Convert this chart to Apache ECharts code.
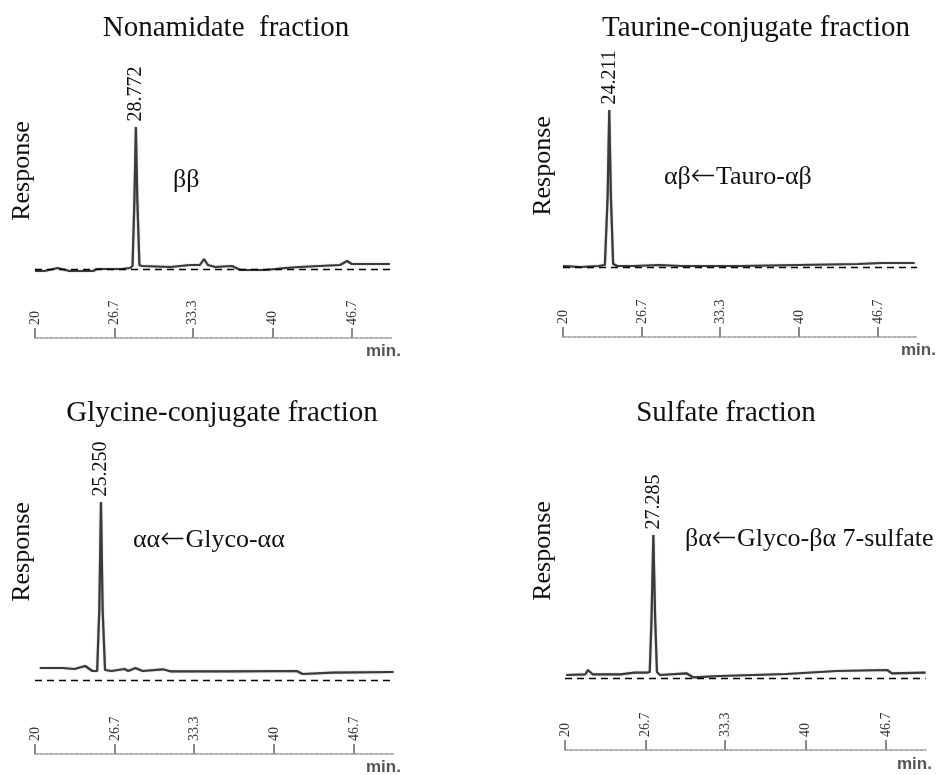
<!DOCTYPE html>
<html><head><meta charset="utf-8">
<script src="https://cdn.jsdelivr.net/npm/echarts@6/dist/echarts.min.js"></script>
<style>html,body{margin:0;padding:0;background:#fff}#c{width:951px;height:775px}</style>
</head><body><div id="c"></div>
<script>
// ---- data ----
const tickLabels = [20, 26.7, 33.3, 40, 46.7];
const titles = ['Nonamidate  fraction', 'Taurine-conjugate fraction', 'Glycine-conjugate fraction', 'Sulfate fraction'];
// each annotation: [product, arrow, precursor]
const annotations = [['ββ', '', ''], ['αβ', '←', 'Tauro-αβ'], ['αα', '←', 'Glyco-αα'], ['βα', '←', 'Glyco-βα 7-sulfate']];
const peakLabels = ['28.772', '24.211', '25.250', '27.285'];

const time1 = [20, 20.8, 21.9, 22.9, 24.9, 25.2, 27.3, 28.0, 28.22, 28.38, 28.5, 28.62, 28.8, 29.0, 31.4, 33.1, 33.9, 34.24, 34.57, 35.2, 36.6, 37.3, 39.4, 41.1, 42.3, 45.7, 46.3, 46.7, 49.9];
const resp1 = [-2, -2, 1, -2, -2, 0, 0, 1, 3, 70, 142, 70, 4, 3, 2, 4, 4, 10, 4, 2, 3, -1, -1, 1, 2, 4, 8, 5, 5];

const time2 = [20, 21.5, 23.0, 23.55, 23.78, 23.92, 24.06, 24.25, 24.6, 26, 28.2, 30, 35, 40, 45, 47, 49.8];
const resp2 = [1, 0, 1, 2, 70, 157, 70, 3, 1, 1, 2, 1, 1, 2, 3, 4, 4];

const time3 = [20.4, 22.3, 23.3, 24.2, 24.8, 25.2, 25.38, 25.52, 25.66, 25.86, 26.4, 27.5, 27.8, 28.4, 29.0, 30.7, 31.3, 36.6, 41.9, 42.4, 44.9, 50];
const resp3 = [12, 12, 11, 14, 9, 9, 70, 178, 70, 10, 9, 11, 9, 12, 9, 10.7, 8.7, 8.7, 9, 6, 7.3, 8];

const time4 = [20.1, 21.7, 21.9, 22.3, 24.6, 25.8, 26.8, 27.05, 27.2, 27.35, 27.5, 27.65, 27.9, 30.1, 30.65, 32.9, 38.4, 42.6, 46.8, 47.2, 50];
const resp4 = [3, 3.7, 8, 3.7, 3.7, 5.3, 5.3, 6, 60, 143, 60, 6, 3, 4.7, 0.7, 2, 4, 7, 8, 4.7, 5.3];

const times = [time1, time2, time3, time4];
const resps = [resp1, resp2, resp3, resp4];

// ---- layout (pixels) ----
const panels = [
  {left: 35,  width: 356,   top: 100, height: 238, ymin: -69, ymax: 169,
   title: [226, 28], resp: [22, 171], ann: [173, 180], minLbl: [366, 351]},
  {left: 563, width: 354,   top: 90,  height: 247, ymin: -70, ymax: 177,
   title: [756, 28], resp: [543, 166], ann: [664, 177], minLbl: [901, 350]},
  {left: 35,  width: 358.5, top: 480, height: 274, ymin: -74, ymax: 200,
   title: [222, 413], resp: [22, 552], ann: [133, 540], minLbl: [366, 767]},
  {left: 565, width: 360.6, top: 500, height: 250, ymin: -72, ymax: 178,
   title: [726, 413], resp: [543, 551], ann: [685, 539], minLbl: [897, 764]}
];

const serif = '"Liberation Serif", "Times New Roman", serif';
const sans = '"Liberation Sans", Arial, sans-serif';

const grid = [], xAxis = [], yAxis = [], series = [], graphic = [];
panels.forEach((p, i) => {
  grid.push({left: p.left, top: p.top, width: p.width, height: p.height, containLabel: false});
  xAxis.push({
    type: 'value', gridIndex: i, min: 20, max: 50,
    splitLine: {show: false},
    axisLine: {show: true, onZero: false, lineStyle: {color: '#b0b0b0', width: 2, type: [3, 2]}},
    axisTick: {show: true, inside: true, length: 10, customValues: tickLabels,
               lineStyle: {color: '#8a8a8a', width: 2}},
    axisLabel: {show: true, inside: true, rotate: 90, margin: 13, customValues: tickLabels,
                fontSize: 14, color: '#333', fontFamily: serif,
                formatter: v => String(v)}
  });
  yAxis.push({type: 'value', gridIndex: i, min: p.ymin, max: p.ymax, show: false});
  const t = times[i], r = resps[i];
  let pk = 0;
  r.forEach((v, k) => { if (v > r[pk]) pk = k; });
  series.push({
    type: 'line', xAxisIndex: i, yAxisIndex: i,
    data: t.map((x, k) => [x, r[k]]),
    symbol: 'none', smooth: false, silent: true,
    lineStyle: {color: '#3a3a3a', width: 2.2, shadowBlur: 1.5, shadowColor: 'rgba(0,0,0,0.35)'},
    markLine: {
      silent: true, symbol: ['none', 'none'], label: {show: false},
      lineStyle: {color: '#000', width: 1.3, type: [7, 5]},
      data: [{yAxis: 0}]
    },
    markPoint: {
      silent: true, symbol: 'circle', symbolSize: 1,
      itemStyle: {color: 'rgba(0,0,0,0)'},
      label: {show: true, position: 'top', distance: 5, rotate: 90,
              align: 'left', verticalAlign: 'middle',
              fontFamily: serif, fontSize: 20, color: '#111',
              formatter: peakLabels[i]},
      data: [{coord: [t[pk], r[pk]]}]
    }
  });
  graphic.push({type: 'text', x: p.title[0], y: p.title[1], silent: true,
    style: {text: titles[i], font: '29px ' + serif, fill: '#111', align: 'center', verticalAlign: 'middle'}});
  graphic.push({type: 'text', x: p.resp[0], y: p.resp[1], rotation: Math.PI / 2, silent: true,
    style: {text: 'Response', font: '26px ' + serif, fill: '#111', align: 'center', verticalAlign: 'middle'}});
  const a = annotations[i];
  graphic.push({type: 'text', x: p.ann[0], y: p.ann[1], silent: true,
    style: {
      text: '{t|' + a[0] + '}' + (a[1] ? '{r|' + a[1] + '}{t|' + a[2] + '}' : ''),
      align: 'left', verticalAlign: 'middle',
      rich: {
        t: {fontFamily: serif, fontSize: 26, fill: '#111', color: '#111'},
        r: {fontFamily: '"DejaVu Sans", sans-serif', fontSize: 30, fontWeight: 'lighter', fill: '#111', color: '#111'}
      }
    }});
  graphic.push({type: 'text', x: p.minLbl[0], y: p.minLbl[1], silent: true,
    style: {text: 'min.', font: 'bold 17px ' + sans, fill: '#555', align: 'left', verticalAlign: 'middle'}});
});

const chart = echarts.init(document.getElementById('c'), null, {renderer: 'canvas'});
chart.setOption({
  animation: false,
  backgroundColor: '#fff',
  grid, xAxis, yAxis, series, graphic
});
</script>
</body></html>
